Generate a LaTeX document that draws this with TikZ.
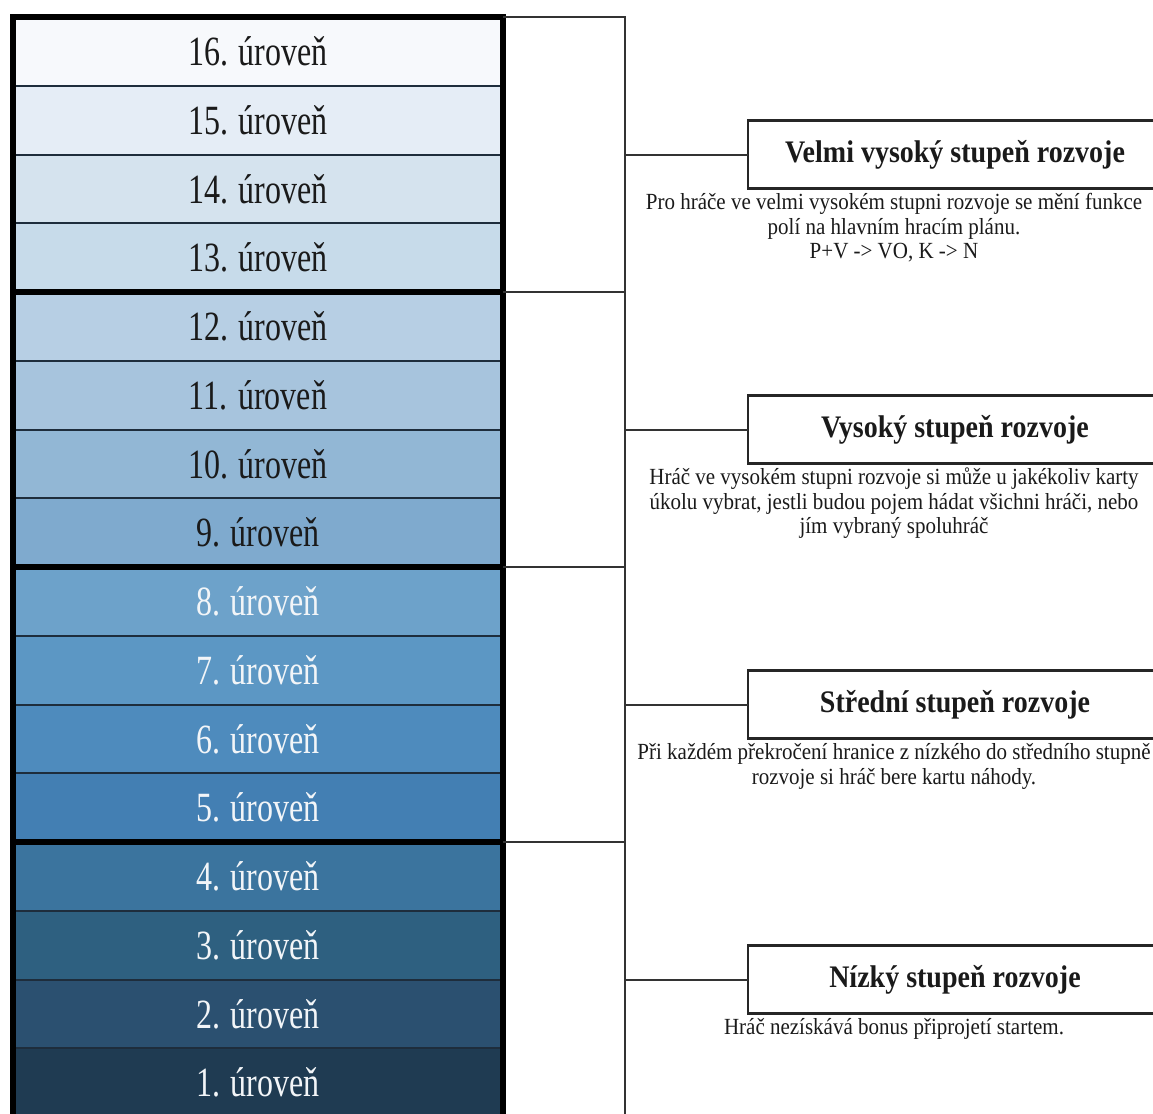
\documentclass[tikz,border=0pt]{standalone}
\usepackage{fontspec}
\setmainfont{Liberation Serif}
\usepackage{graphicx}
\definecolor{c16}{HTML}{F7F9FC}
\definecolor{c15}{HTML}{E5EDF6}
\definecolor{c14}{HTML}{D5E3EE}
\definecolor{c13}{HTML}{C7DBEA}
\definecolor{c12}{HTML}{B7CFE4}
\definecolor{c11}{HTML}{A7C4DD}
\definecolor{c10}{HTML}{92B7D5}
\definecolor{c9}{HTML}{7FAACE}
\definecolor{c8}{HTML}{6DA2CA}
\definecolor{c7}{HTML}{5C97C4}
\definecolor{c6}{HTML}{4E8BBD}
\definecolor{c5}{HTML}{437FB3}
\definecolor{c4}{HTML}{3B749E}
\definecolor{c3}{HTML}{2E6080}
\definecolor{c2}{HTML}{2B5070}
\definecolor{c1}{HTML}{1F3B52}
\definecolor{lvline}{HTML}{1E2D3C}
\definecolor{darktxt}{HTML}{1A1A1A}
\definecolor{lighttxt}{HTML}{F2F5F8}
\definecolor{brk}{HTML}{333333}
\newcommand{\lvtext}[1]{\scalebox{1}[1.3]{#1}}
\newcommand{\tttext}[1]{\scalebox{1}[1.12]{#1}}
\newcommand{\dstext}[1]{\scalebox{1}[1.1]{\begin{tabular}{@{}c@{}}#1\end{tabular}}}
\begin{document}
\begin{tikzpicture}[x=1pt,y=-1pt,
  levelbox/.style={draw=lvline, line width=2pt, minimum width=490pt, minimum height=68.75pt,
    inner sep=0pt, outer sep=0pt, font=\fontsize{32}{36}\selectfont},
  groupbox/.style={draw=black, line width=6pt},
  bracket/.style={draw=brk, line width=2pt},
  stagebox/.style={draw=black!85, line width=2.5pt, minimum width=414pt, minimum height=68pt,
    inner sep=0pt, outer sep=0pt, font=\fontsize{28}{32}\selectfont\bfseries, text=darktxt},
  desc/.style={anchor=north, inner sep=0pt, font=\fontsize{21}{22.3}\selectfont, text=darktxt}
]
\useasboundingbox (0,0) rectangle (1153,1113);
\fill[white] (0,0) rectangle (1153,1113);
% levels
\foreach \k/\c/\t in {16/c16/darktxt,15/c15/darktxt,14/c14/darktxt,13/c13/darktxt,
  12/c12/darktxt,11/c11/darktxt,10/c10/darktxt,9/c9/darktxt,
  8/c8/lighttxt,7/c7/lighttxt,6/c6/lighttxt,5/c5/lighttxt,
  4/c4/lighttxt,3/c3/lighttxt,2/c2/lighttxt,1/c1/lighttxt}{
  \node[levelbox, fill=\c, text=\t] (L\k) at (258,{51.375+68.75*(16-\k)}) {\lvtext{\k. úroveň}};
}
% groups
\draw[groupbox] (L16.north west) rectangle (L13.south east);
\draw[groupbox] (L12.north west) rectangle (L9.south east);
\draw[groupbox] (L8.north west) rectangle (L5.south east);
\draw[groupbox] (L4.north west) rectangle (L1.south east);
% bracket coordinates
\coordinate (t1) at (625,17);
\coordinate (t2) at (625,292);
\coordinate (t3) at (625,567);
\coordinate (t4) at (625,842);
\coordinate (t5) at (625,1117);
\coordinate (m1) at (625,154.5);
\coordinate (m2) at (625,429.5);
\coordinate (m3) at (625,704.5);
\coordinate (m4) at (625,979.5);
% stage boxes
\node[stagebox] (B1) at (955,154.5) {\tttext{Velmi vysoký stupeň rozvoje}};
\node[stagebox] (B2) at (955,429.5) {\tttext{Vysoký stupeň rozvoje}};
\node[stagebox] (B3) at (955,704.5) {\tttext{Střední stupeň rozvoje}};
\node[stagebox] (B4) at (955,979.5) {\tttext{Nízký stupeň rozvoje}};
% descriptions
\node[desc] (D1) at (894,192.5) {\dstext{Pro hráče ve velmi vysokém stupni rozvoje se mění funkce\\polí na hlavním hracím plánu.\\P+V -> VO, K -> N}};
\node[desc] (D2) at (894,467.5) {\dstext{Hráč ve vysokém stupni rozvoje si může u jakékoliv karty\\úkolu vybrat, jestli budou pojem hádat všichni hráči, nebo\\jím vybraný spoluhráč}};
\node[desc] (D3) at (894,742.5) {\dstext{Při každém překročení hranice z nízkého do středního stupně\\rozvoje si hráč bere kartu náhody.}};
\node[desc] (D4) at (894,1017.5) {\dstext{Hráč nezískává bonus připrojetí startem.}};
% brackets
\draw[bracket] (L16.north east) -- (t1) -- (t5);
\draw[bracket] (L12.north east) -- (t2);
\draw[bracket] (L8.north east) -- (t3);
\draw[bracket] (L4.north east) -- (t4);
\draw[bracket] (m1) -- (B1.west);
\draw[bracket] (m2) -- (B2.west);
\draw[bracket] (m3) -- (B3.west);
\draw[bracket] (m4) -- (B4.west);
\end{tikzpicture}
\end{document}
